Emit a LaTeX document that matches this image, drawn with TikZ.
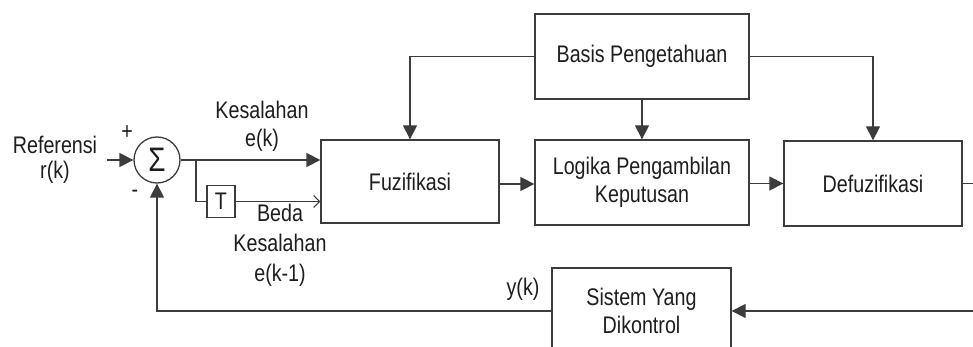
\documentclass[tikz,border=0pt]{standalone}
\usepackage{fontspec}
\setmainfont{Liberation Sans}[FakeStretch=0.82]
\usetikzlibrary{arrows.meta}
\definecolor{lc}{HTML}{3C3C3C}
\definecolor{tc}{HTML}{1E1E1E}
\begin{document}
\begin{tikzpicture}[x=1pt,y=-1pt,
  every node/.style={text=tc,font=\fontsize{24}{28}\selectfont},
  blk/.style={draw=lc,line width=1.3pt,align=center,inner sep=0pt},
  lbl/.style={align=center,inner sep=0pt},
  conn/.style={draw=lc,line width=1.3pt},
  arr/.style={conn,-{Triangle[length=14pt,width=14pt]}},
  barb/.style={conn,line width=1pt,-{Straight Barb[length=6pt,width=12pt]}}]
\useasboundingbox (0,0) rectangle (973,347);
\fill[white] (0,0) rectangle (973,347);
\clip (0,0) rectangle (973,347);
% blocks
\node[blk,circle,minimum size=46pt] (sum) at (157,160) {\fontsize{34}{34}\selectfont Σ};
\node[blk,minimum width=28pt,minimum height=32pt] (T) at (221,201.5) {T};
\node[blk,minimum width=178pt,minimum height=83pt] (fuz) at (410,181.5) {Fuzifikasi};
\node[blk,minimum width=214pt,minimum height=85pt] (log) at (642,182.5) {Logika Pengambilan\\Keputusan};
\node[blk,minimum width=178pt,minimum height=85pt] (def) at (873,183.5) {Defuzifikasi};
\node[blk,minimum width=214pt,minimum height=85pt] (bas) at (642,56.5) {Basis Pengetahuan};
\node[blk,minimum width=179pt,minimum height=86pt] (sis) at (641.5,311) {Sistem Yang\\Dikontrol};
% labels
\node[lbl,font=\fontsize{24}{25}\selectfont] (ref) at (55,160) {Referensi\\r(k)};
\node[lbl] (plus) at (127,133) {+};
\node[lbl] (minus) at (135,194) {-};
\node[lbl] (kes) at (262,126) {Kesalahan\\e(k)};
\node[lbl,font=\fontsize{24}{30}\selectfont] (beda) at (280,245) {Beda\\Kesalahan\\e(k-1)};
\node[lbl] (yk) at (523,289) {y(k)};
% coordinates
\coordinate (in) at (107,160);
\coordinate (br) at (196,160);
\coordinate (bl) at (410,56.5);
\coordinate (brr) at (873,56.5);
\coordinate (rc) at (1000,183.5);
% connectors
\draw[arr] (in) -- (sum.west);
\draw[arr] (sum.east) -- (sum.east -| fuz.west);
\draw[conn] (br) |- (T.west);
\draw[barb] (T.east) -- (T.east -| fuz.west);
\draw[arr] (bas.west) -- (bl) -- (fuz.north);
\draw[arr] (bas.south) -- (log.north);
\draw[arr] (bas.east) -- (brr) -- (def.north);
\draw[arr] (fuz.east |- 0,184) -- (log.west |- 0,184);
\draw[arr] (log.east |- 0,183.5) -- (def.west |- 0,183.5);
\draw[arr] (def.east) -- (rc) |- (sis.east);
\draw[arr] (sis.west) -- (sis.west -| sum.south) -- (sum.south);
\end{tikzpicture}
\end{document}
